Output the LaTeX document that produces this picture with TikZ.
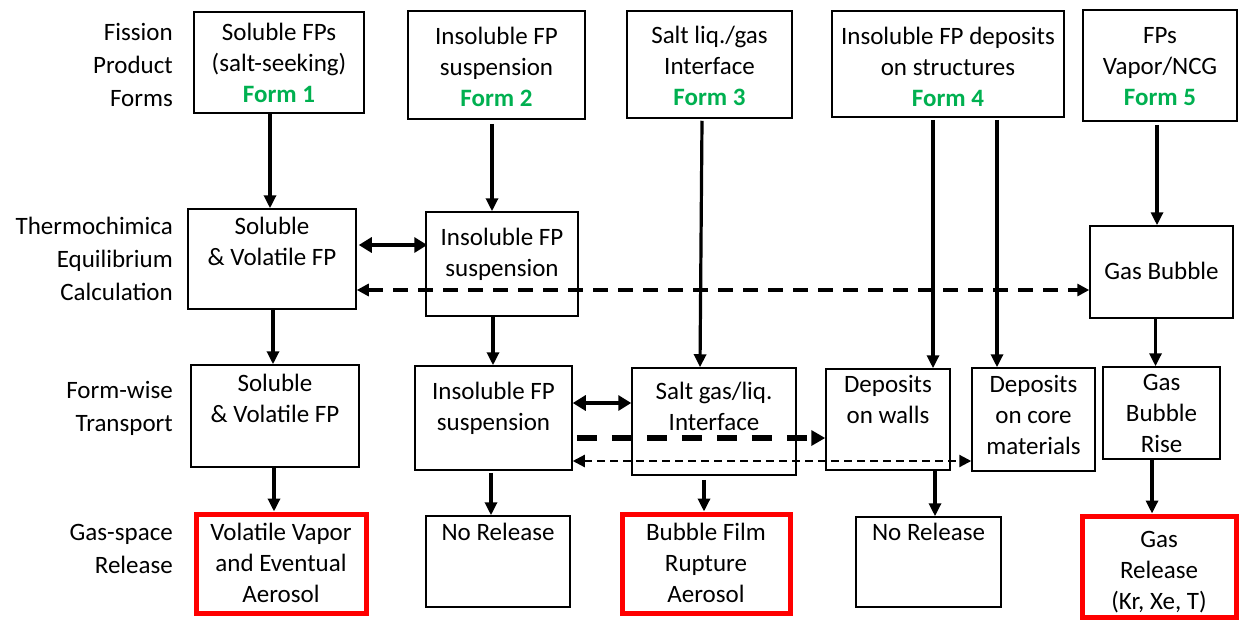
\documentclass[tikz,border=0pt]{standalone}
\usepackage{fontspec}
\setmainfont{Carlito}
\usetikzlibrary{arrows.meta,calc}
\definecolor{fgreen}{HTML}{00B050}
\definecolor{fred}{HTML}{FF0000}
\tikzset{
  bx/.style={draw=black, line width=1.5pt},
  rbx/.style={draw=fred, line width=5pt},
  arr/.style={line width=3.2pt, -{Triangle[length=13pt,width=12pt]}},
  darr/.style={line width=3.8pt, {Triangle[length=13pt,width=15pt]}-{Triangle[length=13pt,width=15pt]}},
  dsh/.style={line width=3.2pt, dash pattern=on 15pt off 10pt, {Triangle[length=12pt,width=12pt]}-{Triangle[length=12pt,width=12pt]}},
  tdsh/.style={line width=5.5pt, dash pattern=on 20pt off 15pt, -{Triangle[length=14pt,width=15pt]}},
  thdsh/.style={line width=2.2pt, dash pattern=on 8pt off 5pt, {Triangle[length=12pt,width=12pt]}-{Triangle[length=12pt,width=12pt]}},
  lab/.style={anchor=base east, inner sep=0pt}
}
\newcommand\fm[1]{{\color{fgreen}\bfseries Form #1}}
% #1 style, #2 name, #3 x1, #4 y1, #5 x2, #6 y2, #7 top space, #8 text
\newcommand\mkbox[8]{%
  \pgfmathsetmacro\bw{#5-#3}\pgfmathsetmacro\bh{#6-#4}%
  \node[#1, minimum width=\bw pt, minimum height=\bh pt, inner sep=0pt] (#2) at ({(#3+#5)/2},{(#4+#6)/2})
  {\parbox[c][\bh pt][t]{\bw pt}{\centering\fontsize{25}{31}\selectfont\vspace*{#7pt}\strut #8\par}};}
\newcommand\mklab[4]{%
  \node[lab] (#1) at (#2,#3) {\parbox[t]{180pt}{\raggedleft\fontsize{25}{33}\selectfont #4}};}
\begin{document}
\begin{tikzpicture}[x=1pt,y=-1pt]
\useasboundingbox (0,0) rectangle (1239,619);
% row labels
\mklab{l1}{173}{40.5}{Fission\\Product\\Forms}
\mklab{l2}{173}{234.5}{Thermochimica\\Equilibrium\\Calculation}
\mklab{l3}{173}{398.5}{Form-wise\\Transport}
\mklab{l4}{173}{540.5}{Gas-space\\Release}
% row 1
\mkbox{bx}{f1}{194}{12}{364}{113}{6.8}{Soluble FPs\\(salt-seeking)\\\fm{1}}
\mkbox{bx}{f2}{408}{11}{585}{119}{11.8}{Insoluble FP\\suspension\\\fm{2}}
\mkbox{bx}{f3}{627}{11}{792}{118}{10.8}{Salt liq./gas\\Interface\\\fm{3}}
\mkbox{bx}{f4}{832}{11}{1064}{117}{11.8}{Insoluble FP deposits\\on structures\\\fm{4}}
\mkbox{bx}{f5}{1083}{10}{1237}{121}{11.8}{FPs\\Vapor/NCG\\\fm{5}}
% row 2
\mkbox{bx}{a2}{188}{209}{356}{309}{3.8}{Soluble\\\& Volatile FP}
\mkbox{bx}{b2}{426}{212}{578}{316}{11.8}{Insoluble FP\\suspension}
\mkbox{bx}{g2}{1090}{226}{1233}{318}{31.8}{Gas Bubble}
% row 3
\mkbox{bx}{a3}{191}{365}{359}{467}{4.8}{Soluble\\\& Volatile FP}
\mkbox{bx}{b3}{415}{366}{572}{470}{11.8}{Insoluble FP\\suspension}
\mkbox{bx}{c3}{632}{368}{796}{475}{9.8}{Salt gas/liq.\\Interface}
\mkbox{bx}{d3}{826}{369}{950}{470}{1.8}{Deposits\\on walls}
\mkbox{bx}{e3}{972}{368}{1095}{471}{2.8}{Deposits\\on core\\materials}
\mkbox{bx}{g3}{1103}{367}{1220}{459}{1.8}{Gas\\Bubble\\Rise}
% row 4
\mkbox{rbx}{a4}{196}{514}{366}{613}{4.8}{Volatile Vapor\\and Eventual\\Aerosol}
\mkbox{bx}{b4}{426}{516}{570}{607}{2.8}{No Release}
\mkbox{rbx}{c4}{622}{514}{790}{613}{4.8}{Bubble Film\\Rupture\\Aerosol}
\mkbox{bx}{d4}{856}{517}{1001}{607}{1.8}{No Release}
\mkbox{rbx}{e4}{1082}{516}{1236}{617}{9.8}{Gas\\Release\\(Kr, Xe, T)}
% vertical arrows
\draw[arr] ([xshift=-9pt]f1.south) -- ([xshift=-9pt]f1.south |- a2.north);
\draw[arr] ([xshift=-4.5pt,yshift=-4pt]f2.south) -- ([xshift=-4.5pt]f2.south |- b2.north);
\draw[arr] ([xshift=-7.5pt,yshift=-2pt]f3.south) -- ([xshift=-14pt]c3.north);
\draw[arr] ([xshift=-15pt,yshift=-2pt]f4.south) -- ([xshift=-15pt]f4.south |- d3.north);
\draw[arr] ([xshift=49pt,yshift=-2pt]f4.south) -- ([xshift=49pt]f4.south |- e3.north);
\draw[arr] ([xshift=-3pt,yshift=-3pt]f5.south) -- ([xshift=-3pt]f5.south |- g2.north);
\draw[arr] ([xshift=1pt]a2.south) -- ([xshift=1pt]a2.south |- a3.north);
\draw[arr] ([xshift=-9pt]b2.south) -- ([xshift=-9pt]b2.south |- b3.north);
\draw[arr] ([xshift=-6pt]g2.south) -- ([xshift=-6pt]g2.south |- g3.north);
\draw[arr] ([xshift=-1pt]a3.south) -- ([xshift=-1pt]a3.south |- a4.north);
\draw[arr] ([xshift=-2.5pt,yshift=-2pt]b3.south) -- ([xshift=-2.5pt]b3.south |- b4.north);
\draw[arr] ([xshift=-10pt,yshift=-4pt]c3.south) -- ([xshift=-10pt]c3.south |- c4.north);
\draw[arr] ([xshift=47pt]d3.south) -- ([xshift=47pt]d3.south |- d4.north);
\draw[arr] ([xshift=-9.5pt]g3.south) -- ([xshift=-9.5pt]g3.south |- e4.north);
% horizontal arrows
\draw[darr] ([yshift=14pt,xshift=2pt]a2.east) -- ([yshift=14pt,xshift=2pt]a2.east -| b2.west);
\draw[dsh] ([yshift=-31pt]a2.east) -- ([yshift=-31pt]a2.east -| g2.west);
\draw[darr] ([yshift=15pt]b3.east) -- ([yshift=15pt]b3.east -| c3.west);
\draw[tdsh] ([yshift=-20pt,xshift=4pt]b3.east) -- ([yshift=-20pt]b3.east -| d3.west);
\draw[thdsh] ([yshift=-43pt]b3.east) -- ([yshift=-43pt]b3.east -| e3.west);
\end{tikzpicture}
\end{document}
